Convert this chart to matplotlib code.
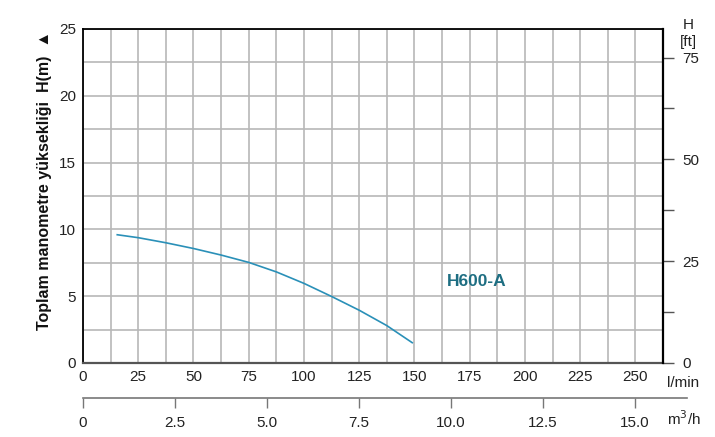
import matplotlib.pyplot as plt
import numpy as np
from matplotlib.ticker import MultipleLocator, FixedLocator, FuncFormatter

plt.rcParams['font.family'] = ['Liberation Sans', 'DejaVu Sans']

# pump curve H600-A
flow_lmin = [15.5, 25, 37.5, 50, 62.5, 75, 87.5, 100, 112.5, 125, 137.5, 149]
head_m = [9.6, 9.38, 9.0, 8.57, 8.08, 7.53, 6.82, 5.96, 4.98, 3.95, 2.8, 1.52]

lmin_ticks = [0, 25, 50, 75, 100, 125, 150, 175, 200, 225, 250]
m3h_ticks = [0, 2.5, 5.0, 7.5, 10.0, 12.5, 15.0]
ft_ticks = [0, 25, 50, 75]

W, H = 715, 437
FS = 11
fig = plt.figure(figsize=(W / 100, H / 100), dpi=100)

ax = fig.add_axes([83 / W, 1 - 363 / H, 580 / W, 334 / H])
ax.set_xlim(0, 262.5)
ax.set_ylim(0, 25)
ax.xaxis.set_major_locator(FixedLocator(lmin_ticks))
ax.xaxis.set_minor_locator(MultipleLocator(12.5))
ax.yaxis.set_major_locator(MultipleLocator(5))
ax.yaxis.set_minor_locator(MultipleLocator(2.5))
ax.grid(True, which='both', color='#b8b8b8', lw=1.2)
ax.set_axisbelow(True)
ax.tick_params(which='both', length=0, labelsize=FS, colors='#222222')
ax.tick_params(axis='x', pad=5)
ax.tick_params(axis='y', pad=5)
for s in ['left', 'top', 'right']:
    ax.spines[s].set_color('black')
    ax.spines[s].set_linewidth(1.3)
ax.spines['bottom'].set_color('#555555')
ax.spines['bottom'].set_linewidth(1.6)

ax.plot(flow_lmin, head_m, color='#2a90b8', lw=1.2)
ax.text(178, 6.1, 'H600-A', color='#1e6e82', fontsize=12.5, fontweight='bold',
        ha='center', va='center')

# feet on the right
axr = ax.twinx()
axr.set_ylim(0, 25 / 0.3048)
axr.yaxis.set_major_locator(FixedLocator(ft_ticks))
axr.yaxis.set_minor_locator(MultipleLocator(12.5))
axr.tick_params(which='both', direction='out', length=8, width=1, color='#555555',
                labelsize=FS, pad=6, labelcolor='#222222')
for s in ['left', 'top', 'bottom']:
    axr.spines[s].set_visible(False)
axr.spines['right'].set_color('black')
axr.spines['right'].set_linewidth(1.6)

# second flow axis in m3/h
ax2 = fig.add_axes([83 / W, 1 - 398 / H, 604 / W, 0.0001])
ax2.set_xlim(0, 604 / 552 * 15)
ax2.set_ylim(0, 1)
ax2.set_yticks([])
ax2.xaxis.set_major_locator(FixedLocator(m3h_ticks))
ax2.xaxis.set_major_formatter(FuncFormatter(lambda v, p: '0' if v == 0 else f'{v:.1f}'))
ax2.tick_params(axis='x', direction='out', length=7, width=1, color='#777777',
                labelsize=FS, pad=6, labelcolor='#222222')
ax2.patch.set_visible(False)
for s in ['left', 'top', 'right']:
    ax2.spines[s].set_visible(False)
ax2.spines['bottom'].set_color('#777777')
ax2.spines['bottom'].set_linewidth(1.2)

fig.text(667 / W, 1 - 383 / H, 'l/min', fontsize=FS, ha='left', va='center', color='#222222')
fig.text(667 / W, 1 - 419 / H, 'm$^3$/h', fontsize=FS, ha='left', va='center', color='#222222')
fig.text(688 / W, 1 - 25 / H, 'H', fontsize=FS, ha='center', va='center', color='#222222')
fig.text(688 / W, 1 - 42 / H, '[ft]', fontsize=FS, ha='center', va='center', color='#222222')

fig.text(45 / W, 1 - 180 / H, 'Toplam manometre yüksekliği  H(m)  \u25B2', rotation=90,
         fontsize=11.5, fontweight='bold', ha='center', va='center', color='#111111')

fig.savefig('out.png', dpi=100)
